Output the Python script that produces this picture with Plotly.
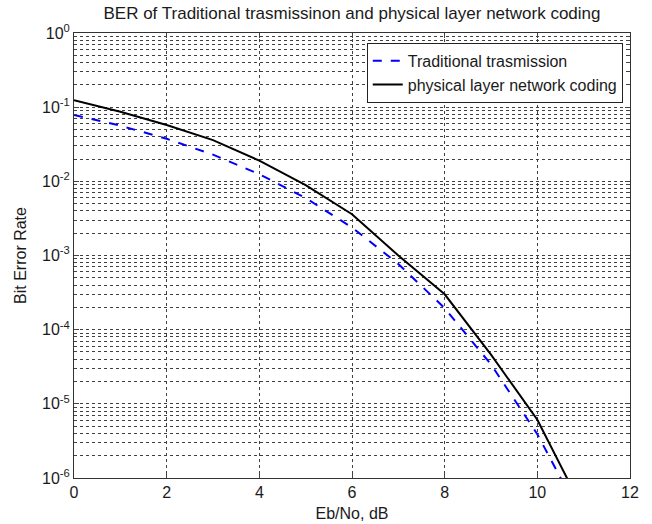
import plotly.graph_objects as go

ebno_db = [0, 1, 2, 3, 4, 5, 6, 7, 8, 9, 10, 11]
ber_traditional = [0.0786, 0.0563, 0.0375, 0.0229, 0.0125, 0.00595, 0.00239,
                   7.7e-4, 1.95e-4, 3.4e-5, 3.9e-6, 2.6e-7]
ber_plnc = [0.124, 0.0867, 0.0575, 0.036, 0.019, 0.0089, 0.0036,
            1.0e-3, 3.0e-4, 4.6e-5, 6.1e-6, 3.6e-7]

x_ticks = [0, 2, 4, 6, 8, 10, 12]
y_tick_vals = [1e-6, 1e-5, 1e-4, 1e-3, 1e-2, 1e-1, 1]
y_tick_text = ["10<sup>-6</sup>", "10<sup>-5</sup>", "10<sup>-4</sup>", "10<sup>-3</sup>",
               "10<sup>-2</sup>", "10<sup>-1</sup>", "10<sup>0</sup>"]

font_family = "Liberation Sans, Arial, sans-serif"

fig = go.Figure()
fig.add_trace(go.Scatter(x=ebno_db, y=ber_traditional, mode="lines",
                         name="Traditional trasmission",
                         line=dict(color="#0000ff", width=2, dash="dash")))
fig.add_trace(go.Scatter(x=ebno_db, y=ber_plnc, mode="lines",
                         name="physical layer network coding",
                         line=dict(color="#000000", width=2)))

grid_color = "#404040"
fig.update_layout(
    width=652, height=524,
    margin=dict(l=74, r=22, t=33, b=46, autoexpand=False),
    paper_bgcolor="white", plot_bgcolor="white",
    font=dict(family=font_family, size=16, color="#1a1a1a"),
    title=dict(text="BER of Traditional trasmissinon and physical layer network coding",
               xref="paper", x=0.5, xanchor="center", y=0.975, yanchor="middle",
               font=dict(size=17, color="#1a1a1a")),
    showlegend=True,
    legend=dict(x=0.987, xanchor="right", y=0.978, yanchor="top",
                bgcolor="white", bordercolor="#222", borderwidth=1,
                font=dict(size=16), tracegroupgap=0),
)
fig.update_xaxes(
    range=[0, 12], tickvals=x_ticks, ticks="inside", ticklen=5,
    showline=True, linecolor="#333", linewidth=1, mirror="allticks",
    showgrid=True, gridcolor=grid_color, griddash="dot", gridwidth=1,
    zeroline=False, tickfont=dict(size=16),
    title=dict(text="Eb/No, dB", font=dict(size=16), standoff=7),
)
fig.update_yaxes(
    type="log", range=[-6, 0], tickvals=y_tick_vals, ticktext=y_tick_text,
    ticks="inside", ticklen=5,
    showline=True, linecolor="#333", linewidth=1, mirror="allticks",
    showgrid=True, gridcolor=grid_color, griddash="dot", gridwidth=1,
    minor=dict(ticks="inside", ticklen=3, showgrid=True, gridcolor=grid_color,
               griddash="dot", gridwidth=1, dtick="D1"),
    zeroline=False, tickfont=dict(size=16),
    title=dict(text="Bit Error Rate", font=dict(size=16), standoff=11),
)

fig.write_html("out.html", config={"displayModeBar": False},
               post_script="document.body.style.margin='0';")
